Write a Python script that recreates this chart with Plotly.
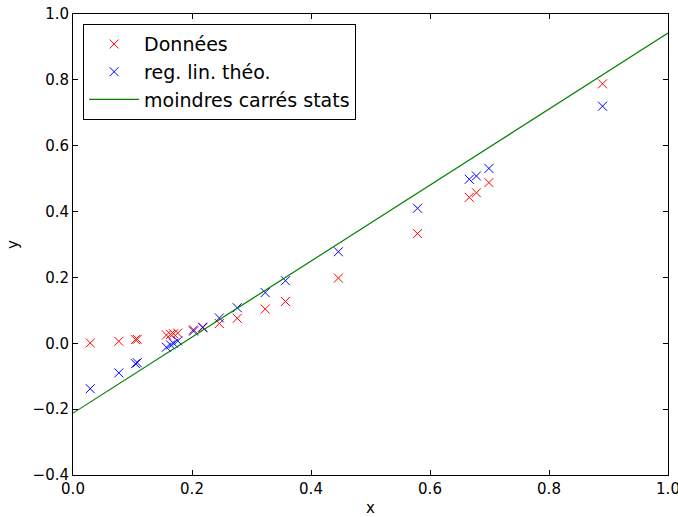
import plotly.graph_objects as go

x_data = [0.029, 0.077, 0.105, 0.108, 0.157, 0.164, 0.169, 0.176, 0.2025, 0.218,
          0.246, 0.276, 0.323, 0.357, 0.446, 0.579, 0.666, 0.678, 0.699, 0.890]
y_donnees = [0.001, 0.006, 0.011, 0.012, 0.025, 0.027, 0.029, 0.031, 0.041, 0.047,
             0.060, 0.076, 0.104, 0.127, 0.198, 0.333, 0.443, 0.457, 0.488, 0.788]
y_theo = [-0.138, -0.090, -0.062, -0.059, -0.012, -0.005, 0.000, 0.007, 0.037, 0.049,
          0.077, 0.108, 0.154, 0.190, 0.278, 0.410, 0.498, 0.508, 0.531, 0.720]
line_x = [0.0, 1.0]
line_y = [-0.212, 0.942]

x_ticks = [0.0, 0.2, 0.4, 0.6, 0.8, 1.0]
y_ticks = [-0.4, -0.2, 0.0, 0.2, 0.4, 0.6, 0.8, 1.0]

font = "DejaVu Sans"

fig = go.Figure()
fig.add_trace(go.Scatter(x=x_data, y=y_donnees, mode="markers", name="Données", legendgroup="a",
                         marker=dict(symbol="x-thin-open", size=9, line=dict(color="red", width=1), color="red")))
fig.add_trace(go.Scatter(x=x_data, y=y_theo, mode="markers", name="reg. lin. théo.", legendgroup="b",
                         marker=dict(symbol="x-thin-open", size=9, line=dict(color="blue", width=1), color="blue")))
fig.add_trace(go.Scatter(x=line_x, y=line_y, mode="lines", name="moindres carrés stats", legendgroup="c",
                         line=dict(color="#008000", width=1.2)))

axis_common = dict(showline=True, linecolor="black", linewidth=1, mirror="ticks",
                   ticks="inside", ticklen=5, tickcolor="black", showgrid=False,
                   zeroline=False, tickfont=dict(family=font, size=15, color="black"),
                   tickformat=".1f", automargin=False, ticklabeloverflow="allow")

fig.update_xaxes(range=[0, 1], tickvals=x_ticks,
                 title=dict(text="x", font=dict(family=font, size=15, color="black"), standoff=8),
                 **axis_common)
fig.update_yaxes(range=[-0.4, 1.0], tickvals=y_ticks,
                 title=dict(text="y", font=dict(family=font, size=15, color="black"), standoff=10),
                 **axis_common)

fig.update_layout(
    width=678, height=517,
    margin=dict(l=73, r=10, t=14, b=42),
    plot_bgcolor="white", paper_bgcolor="white",
    font=dict(family=font, color="black"),
    hovermode=False,
    legend=dict(x=0.017, y=0.978, xanchor="left", yanchor="top",
                bordercolor="black", borderwidth=1, bgcolor="white",
                font=dict(family=font, size=19, color="black"),
                itemwidth=50, tracegroupgap=0),
)

fig.write_html("out.html", config={"displayModeBar": False, "staticPlot": True},
               post_script="document.body.style.margin='0';")
